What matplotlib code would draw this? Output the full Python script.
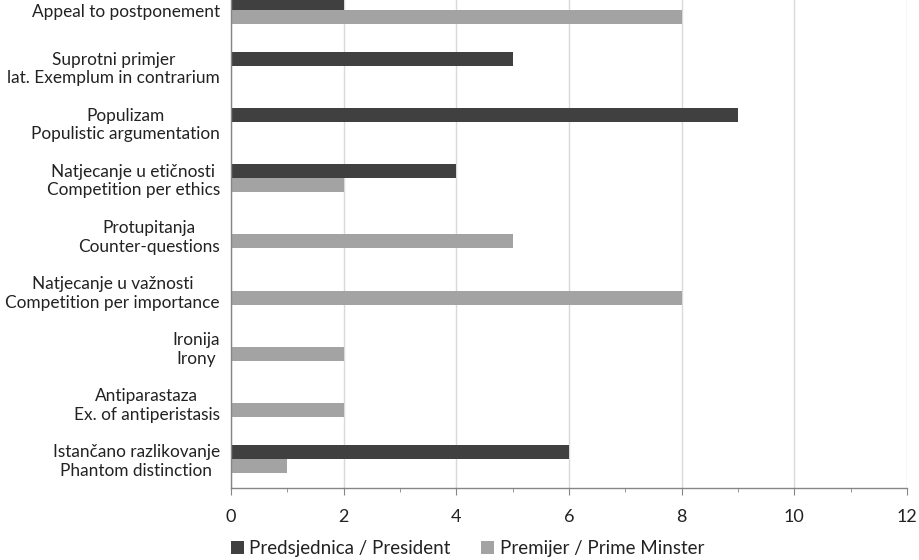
"""Horizontal grouped bars: argumentation types, President vs Prime Minister."""

import matplotlib
matplotlib.use("Agg")
import matplotlib.pyplot as plt
import numpy as np
from matplotlib.patches import Patch
from matplotlib.ticker import MultipleLocator

plt.rcParams["font.family"] = ["Lato", "DejaVu Sans"]

# categories listed bottom -> top
categories = [
    "Istančano razlikovanje\nPhantom distinction",
    "Antiparastaza\nEx. of antiperistasis",
    "Ironija\nIrony",
    "Natjecanje u važnosti\nCompetition per importance",
    "Protupitanja\nCounter-questions",
    "Natjecanje u etičnosti\nCompetition per ethics",
    "Populizam\nPopulistic argumentation",
    "Suprotni primjer\nlat. Exemplum in contrarium",
    "Appeal to postponement",
]
president = [6, 0, 0, 0, 0, 4, 9, 5, 2]
prime_minister = [1, 2, 2, 8, 5, 2, 0, 0, 8]
series_labels = ["Predsjednica / President", "Premijer / Prime Minster"]

DARK = "#404040"
LIGHT = "#a3a3a3"

fig = plt.figure(figsize=(9.2, 5.6), dpi=100)
ax = fig.add_axes([231 / 920, 1 - 488 / 560, (907 - 231) / 920, 488 / 560])

y = np.arange(len(categories))
h = 0.25
ax.barh(y + h / 2, president, height=h, color=DARK, linewidth=0, zorder=3)
ax.barh(y - h / 2, prime_minister, height=h, color=LIGHT, linewidth=0, zorder=3)

ax.set_xlim(0, 12)
ax.set_ylim(-0.52, len(categories) - 1 + 0.18)
ax.xaxis.set_major_locator(MultipleLocator(2))
ax.xaxis.set_minor_locator(MultipleLocator(1))
ax.grid(axis="x", which="major", color="#d9d9d9", linewidth=1, zorder=0)

ax.set_yticks(y)
ax.set_yticklabels(categories, fontsize=12.4, color="#222222",
                   multialignment="center")
ax.tick_params(axis="y", length=0, pad=8)
ax.tick_params(axis="x", which="major", direction="out", length=5,
               color="#868686", labelsize=13, pad=10, labelcolor="#222222")
ax.tick_params(axis="x", which="minor", direction="out", length=3,
               color="#868686")

for side in ["top", "right"]:
    ax.spines[side].set_visible(False)
for side in ["left", "bottom"]:
    ax.spines[side].set_color("#868686")
    ax.spines[side].set_linewidth(1)
    ax.spines[side].set_zorder(4)

handles = [Patch(facecolor=DARK), Patch(facecolor=LIGHT)]
fig.legend(handles, series_labels, loc="center", bbox_to_anchor=(0.508, 0.02),
           ncol=2, frameon=False, fontsize=13.5, handlelength=0.7,
           handleheight=0.7, handletextpad=0.3, columnspacing=1.6,
           labelcolor="#222222")

fig.savefig("out.png", dpi=100)
